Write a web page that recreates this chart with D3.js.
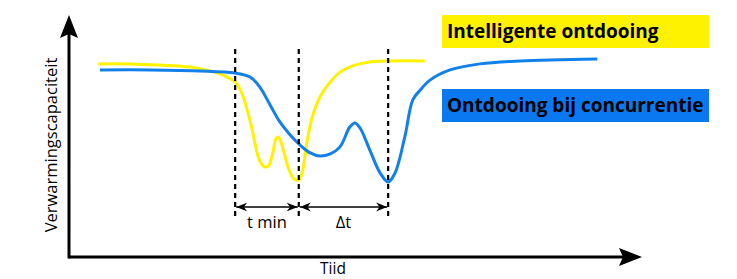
<!DOCTYPE html>
<html>
<head>
<meta charset="utf-8">
<script src="https://d3js.org/d3.v7.min.js"></script>
<style>
  body { margin: 0; background: #fff; }
  text { font-family: "Open Sans", sans-serif; }
</style>
</head>
<body>
<script>
// time (0-100) and heating capacity (0-100)
var yellowT = [5.1, 10.7, 15.9, 21.1, 24.6, 27.2, 29.0, 30.2, 31.1, 31.9, 33.2, 33.9, 34.4, 34.9, 35.6, 36.1, 36.5, 36.8, 37.5, 38.4, 39.3, 40.1, 40.8, 41.5, 42.4, 43.8, 45.6, 47.3, 49.9, 52.5, 56.0, 62.1];
var yellowV = [79.8, 79.8, 79.3, 78.5, 76.9, 74.8, 72.3, 67.4, 60.7, 53.3, 40.1, 37.6, 37.2, 38.0, 43.4, 48.8, 49.6, 48.8, 43.4, 36.0, 32.2, 31.8, 36.0, 47.1, 57.4, 66.1, 72.3, 76.4, 79.3, 80.6, 81.0, 81.0];

var blueT = [5.4, 14.1, 22.9, 29.0, 31.6, 33.3, 35.1, 36.8, 38.6, 40.3, 42.1, 43.8, 45.6, 47.3, 49.0, 49.9, 50.8, 52.5, 54.3, 55.7, 56.9, 58.6, 60.0, 61.3, 63.0, 66.5, 71.7, 78.7, 92.2];
var blueV = [77.3, 77.3, 76.9, 76.0, 74.4, 70.2, 62.8, 55.8, 50.4, 46.3, 43.0, 41.7, 42.6, 45.5, 53.7, 55.4, 53.3, 44.2, 34.7, 31.0, 34.7, 49.6, 64.9, 69.0, 73.1, 77.3, 79.8, 81.0, 81.8];

// dashed markers and the spans between them
var markers = [29.0, 40.1, 55.7];
var spanLabels = ["t min", "\u0394t"];

var legendLabels = ["Intelligente ontdooing", "Ontdooing bij concurrentie"];
var legendColors = ["#fff200", "#0a78f0"];
var lineColors = ["#fff200", "#1280ea"];

var w = 737, h = 279;
var svg = d3.select("body").append("svg")
  .attr("width", w)
  .attr("height", h);

var x = d3.scaleLinear().domain([0, 100]).range([69, 642]);
var y = d3.scaleLinear().domain([0, 100]).range([257, 15]);

// curves
var line = d3.line()
  .x(function(d){ return x(d[0]); })
  .y(function(d){ return y(d[1]); })
  .curve(d3.curveCatmullRom.alpha(0.5));

var series = [d3.zip(yellowT, yellowV), d3.zip(blueT, blueV)];
svg.selectAll("path.curve")
  .data(series)
  .enter()
  .append("path")
  .attr("class", "curve")
  .attr("d", line)
  .attr("fill", "none")
  .attr("stroke", function(d, i){ return lineColors[i]; })
  .attr("stroke-width", 3);

// dashed verticals
svg.selectAll("line.mark")
  .data(markers)
  .enter()
  .append("line")
  .attr("x1", function(d){ return x(d); })
  .attr("x2", function(d){ return x(d); })
  .attr("y1", 49)
  .attr("y2", 219)
  .attr("stroke", "#000")
  .attr("stroke-width", 2.2)
  .attr("stroke-dasharray", "5,4");

// double arrows between markers
var ay = 207;
var defs = svg.append("defs");
defs.append("marker")
  .attr("id", "ah")
  .attr("viewBox", "0 0 10 10")
  .attr("refX", 10).attr("refY", 5)
  .attr("markerWidth", 11).attr("markerHeight", 11)
  .attr("markerUnits", "userSpaceOnUse")
  .attr("orient", "auto-start-reverse")
  .append("path")
  .attr("d", "M0,1 L10,5 L0,9 L3,5 Z")
  .attr("fill", "#000");

var spans = d3.pairs(markers);
svg.selectAll("line.span")
  .data(spans)
  .enter()
  .append("line")
  .attr("x1", function(d){ return x(d[0]) + 1; })
  .attr("x2", function(d){ return x(d[1]) - 1; })
  .attr("y1", ay).attr("y2", ay)
  .attr("stroke", "#000")
  .attr("stroke-width", 1.5)
  .attr("marker-start", "url(#ah)")
  .attr("marker-end", "url(#ah)");

svg.selectAll("text.span")
  .data(spans)
  .enter()
  .append("text")
  .attr("x", function(d){ return (x(d[0]) + x(d[1])) / 2; })
  .attr("y", 228)
  .attr("text-anchor", "middle")
  .attr("font-size", 16.5)
  .text(function(d, i){ return spanLabels[i]; });

// axes with arrowheads
var x0 = x.range()[0], x1 = x.range()[1];
var y0 = y.range()[0], y1 = y.range()[1];
svg.append("line")
  .attr("x1", x0).attr("x2", x0)
  .attr("y1", y0 + 1.5).attr("y2", y1 + 15)
  .attr("stroke", "#000").attr("stroke-width", 3);
svg.append("line")
  .attr("x1", x0).attr("x2", x1 - 15)
  .attr("y1", y0).attr("y2", y0)
  .attr("stroke", "#000").attr("stroke-width", 3);
svg.append("path")
  .attr("d", "M" + x0 + "," + y1 + " L" + (x0 + 9) + "," + (y1 + 23) + " L" + x0 + "," + (y1 + 19) + " L" + (x0 - 9) + "," + (y1 + 23) + " Z")
  .attr("fill", "#000");
svg.append("path")
  .attr("d", "M" + x1 + "," + y0 + " L" + (x1 - 23) + "," + (y0 - 9) + " L" + (x1 - 19) + "," + y0 + " L" + (x1 - 23) + "," + (y0 + 9) + " Z")
  .attr("fill", "#000");

svg.append("text")
  .attr("x", 333).attr("y", 274)
  .attr("text-anchor", "middle")
  .attr("font-size", 15.5)
  .text("Tiid");

svg.append("text")
  .attr("transform", "translate(57,145) rotate(-90)")
  .attr("text-anchor", "middle")
  .attr("font-size", 16.5)
  .text("Verwarmingscapaciteit");

// legend boxes
var legY = [15, 89];
var leg = svg.selectAll("g.leg")
  .data(legendLabels)
  .enter()
  .append("g")
  .attr("transform", function(d, i){ return "translate(442," + legY[i] + ")"; });
leg.append("rect")
  .attr("width", 267).attr("height", 33)
  .attr("fill", function(d, i){ return legendColors[i]; });
leg.append("text")
  .attr("x", 5).attr("y", 23)
  .attr("font-size", 19)
  .attr("font-weight", "bold")
  .text(function(d){ return d; });
</script>
</body>
</html>
